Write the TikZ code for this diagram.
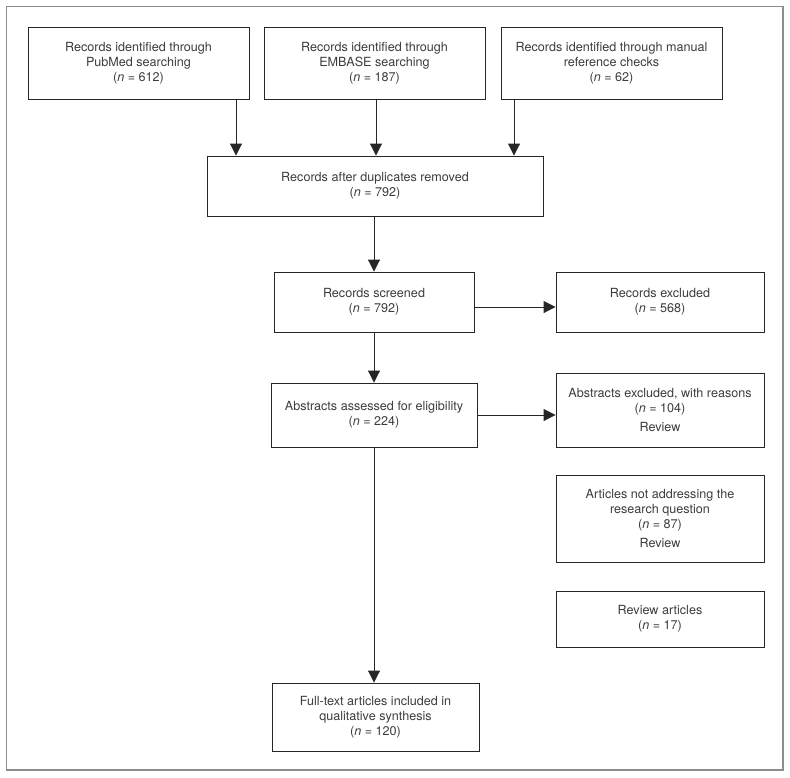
\documentclass[tikz,border=0pt]{standalone}
\usepackage{fontspec}
\setmainfont{TeX Gyre Heros}
\usetikzlibrary{arrows.meta}
\definecolor{txt}{HTML}{3C3C3C}
\definecolor{ln}{HTML}{262626}
\definecolor{frm}{HTML}{8C8C8C}
\tikzset{
  box/.style={draw=ln, line width=0.9pt, rectangle, inner sep=0pt, align=center,
    text=txt, font=\fontsize{12.6}{15}\selectfont},
  arr/.style={draw=ln, line width=0.9pt, -{Triangle[length=12pt,width=12pt]}},
}
\begin{document}
\begin{tikzpicture}[x=1pt,y=-1pt]
\useasboundingbox (0,0) rectangle (790,777);
\draw[frm, line width=1.4pt] (6.5,6.5) rectangle (783,770);

\node[box, minimum width=221pt, minimum height=72pt] (b1) at (138.5,63)
  {Records identified through\\PubMed searching\\(\textit{n} = 612)};
\node[box, minimum width=221pt, minimum height=72pt] (b2) at (374.5,63)
  {Records identified through\\EMBASE searching\\(\textit{n} = 187)};
\node[box, minimum width=221pt, minimum height=72pt] (b3) at (611.5,63)
  {Records identified through manual\\reference checks\\(\textit{n} = 62)};
\node[box, minimum width=336pt, minimum height=60pt] (dup) at (375,186)
  {Records after duplicates removed\\(\textit{n} = 792)};
\node[box, minimum width=200pt, minimum height=60pt] (scr) at (374,302)
  {Records screened\\(\textit{n} = 792)};
\node[box, minimum width=208pt, minimum height=60pt] (exc) at (660,302)
  {Records excluded\\(\textit{n} = 568)};
\node[box, minimum width=206pt, minimum height=64pt] (abs) at (374,415)
  {Abstracts assessed for eligibility\\(\textit{n} = 224)};
\node[box, minimum width=208pt, minimum height=74pt] (absx) at (660,410)
  {Abstracts excluded, with reasons\\(\textit{n} = 104)\\[3.5pt]Review};
\node[box, minimum width=208pt, minimum height=87pt] (art) at (660,518.5)
  {Articles not addressing the\\research question\\(\textit{n} = 87)\\[3.5pt]Review};
\node[box, minimum width=208pt, minimum height=56pt] (rev) at (660,619)
  {Review articles\\(\textit{n} = 17)};
\node[box, minimum width=207pt, minimum height=68pt] (full) at (375.5,717)
  {Full-text articles included in\\qualitative synthesis\\(\textit{n} = 120)};

\coordinate (c1) at (236,0);
\coordinate (c2) at (376,0);
\coordinate (c3) at (514,0);
\coordinate (cv) at (374,0);
\coordinate (h1) at (0,307);
\coordinate (h2) at (0,415);

\draw[arr] (c1 |- b1.south) -- (c1 |- dup.north);
\draw[arr] (c2 |- b2.south) -- (c2 |- dup.north);
\draw[arr] (c3 |- b3.south) -- (c3 |- dup.north);
\draw[arr] (cv |- dup.south) -- (cv |- scr.north);
\draw[arr] (cv |- scr.south) -- (cv |- abs.north);
\draw[arr] (cv |- abs.south) -- (cv |- full.north);
\draw[arr] (h1 -| scr.east) -- (h1 -| exc.west);
\draw[arr] (h2 -| abs.east) -- (h2 -| absx.west);
\end{tikzpicture}
\end{document}
